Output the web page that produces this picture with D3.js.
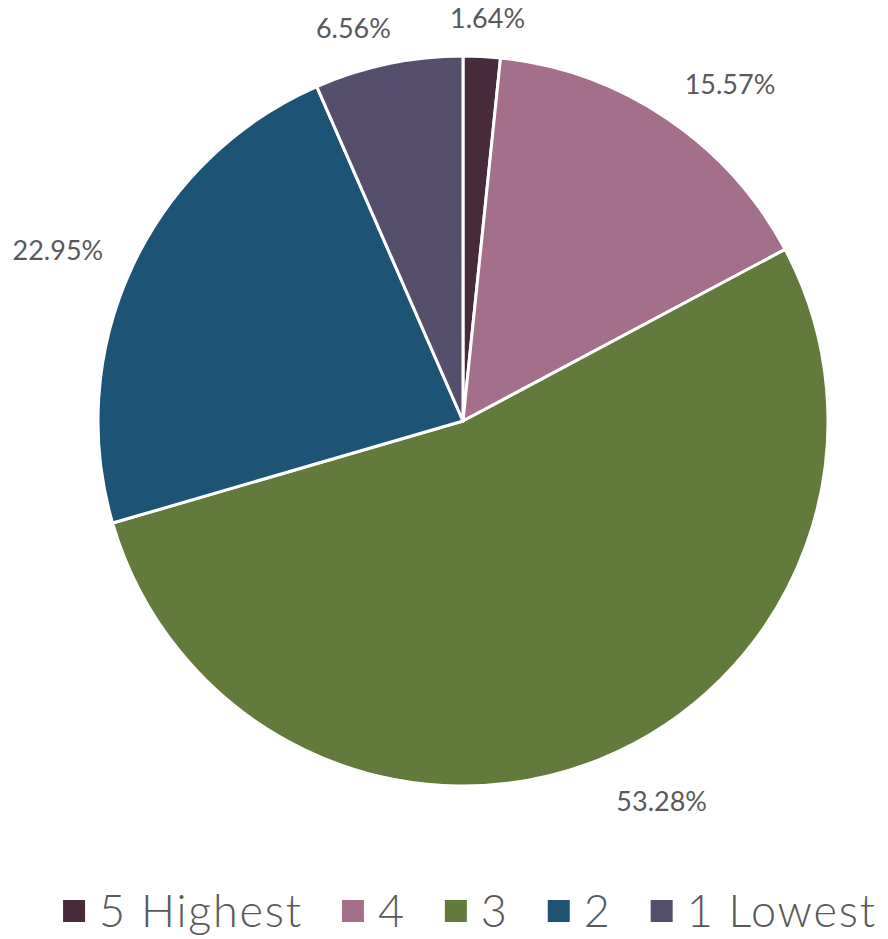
<!DOCTYPE html>
<html>
<head>
<meta charset="utf-8">
<script src="https://cdn.jsdelivr.net/npm/d3@7"></script>
<style>
  html, body { margin: 0; padding: 0; background: #ffffff; }
  svg { display: block; }
</style>
</head>
<body>
<svg id="chart" width="888" height="939"></svg>
<script>
// Rating categories, clockwise from 12 o'clock
const categories = ["5 Highest", "4", "3", "2", "1 Lowest"];
const shares = [1.64, 15.57, 53.28, 22.95, 6.56];
const palette = ["#472b3b", "#a36f8a", "#627b3c", "#1d5374", "#554f6d"];

const cx = 463, cy = 421, R = 365;
const textColor = "#595959";
const labelFont = "Lato, 'Open Sans', sans-serif";

// Hand-placement tweaks for the outside labels (pixels)
const labelNudge = [[3, -7], [29, -8], [38, 11], [-19, -3], [-24, -4]];

const svg = d3.select("#chart");

const pie = d3.pie().sort(null).value(d => d.value);
const arcs = pie(categories.map((c, i) => ({ cat: c, value: shares[i], idx: i })));
const arc = d3.arc().innerRadius(0).outerRadius(R);

const color = d3.scaleOrdinal().domain(categories).range(palette);

const g = svg.append("g").attr("transform", `translate(${cx},${cy})`);

g.selectAll("path.slice")
  .data(arcs)
  .join("path")
  .attr("class", "slice")
  .attr("d", arc)
  .attr("fill", d => color(d.data.cat))
  .attr("stroke", "#ffffff")
  .attr("stroke-width", 3)
  .attr("stroke-linejoin", "round");

// Percentage labels sit just outside the rim, pushed out along the slice's mid angle
const labelGap = 16;
const labels = g.selectAll("text.pct")
  .data(arcs)
  .join("text")
  .attr("class", "pct")
  .attr("font-family", labelFont)
  .attr("font-weight", 400)
  .attr("font-size", 27)
  .attr("fill", textColor)
  .attr("text-anchor", "middle")
  .attr("dominant-baseline", "central")
  .text(d => d.data.value.toFixed(2) + "%");

labels.each(function(d) {
  const bb = this.getBBox();
  const a = (d.startAngle + d.endAngle) / 2;
  const s = Math.sin(a), c = -Math.cos(a);
  const r = R + labelGap;
  const n = labelNudge[d.data.idx];
  const x = r * s + s * bb.width / 2 + n[0];
  const y = r * c + c * bb.height / 2 + n[1];
  d3.select(this).attr("x", x).attr("y", y);
});

// Legend row along the bottom
const legendFontSize = 45;
const sw = 22, swGap = 14, itemGap = 39;
const legend = svg.append("g");
let xPos = 0;
categories.forEach((c, i) => {
  const item = legend.append("g").attr("transform", `translate(${xPos},0)`);
  item.append("rect")
    .attr("x", 0).attr("y", -27)
    .attr("width", sw).attr("height", sw)
    .attr("fill", color(c));
  const t = item.append("text")
    .attr("x", sw + swGap)
    .attr("y", 0)
    .attr("font-family", labelFont)
    .attr("font-weight", 300)
    .attr("font-size", legendFontSize)
    .attr("letter-spacing", 1.8)
    .attr("fill", textColor)
    .text(c);
  xPos += sw + swGap + t.node().getComputedTextLength() + itemGap;
});
const legendW = xPos - itemGap;
legend.attr("transform", `translate(${(62 + 878) / 2 - legendW / 2},927)`);
</script>
</body>
</html>
